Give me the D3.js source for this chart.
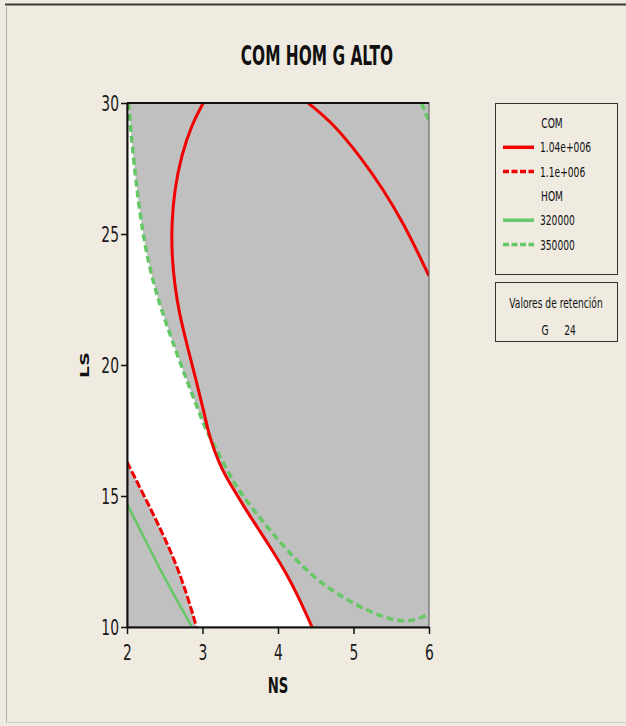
<!DOCTYPE html>
<html>
<head>
<meta charset="utf-8">
<script src="https://cdn.jsdelivr.net/npm/d3@7"></script>
<style>
  body { margin: 0; background: #efebe1; }
  svg { display: block; }
  text { font-family: "DejaVu Sans", sans-serif; fill: #111; }
</style>
</head>
<body>
<script>
// Overlaid contour plot: COM and HOM versus NS and LS, G held at 24

var nsTicks = [2, 3, 4, 5, 6];
var lsTicks = [10, 15, 20, 25, 30];

// COM = 1.04e+006 (solid red), two pieces
var comLow = [[3.01, 30], [2.86, 29.2], [2.72, 28.0], [2.63, 26.7], [2.59, 25.4], [2.595, 24.1],
    [2.635, 23.0], [2.69, 22.0], [2.80, 20.7], [2.915, 19.43], [3.02, 18.2], [3.08, 17.4],
    [3.16, 16.7], [3.26, 16.0], [3.40, 15.3], [3.57, 14.5], [3.75, 13.7], [3.93, 12.9],
    [4.10, 12.1], [4.28, 11.1], [4.45, 10]];
var comLowB = [[4.40, 30], [4.73, 29.22], [5.09, 27.95], [5.40, 26.68], [5.66, 25.41], [5.88, 24.13], [6, 23.4]];

// COM = 1.1e+006 (dashed red)
var comHigh = [[2, 16.3], [2.21, 15.1], [2.43, 13.83], [2.63, 12.56], [2.79, 11.29], [2.92, 10]];

// HOM = 320000 (solid green)
var homLow = [[2, 14.7], [2.22, 13.45], [2.44, 12.18], [2.66, 11.03], [2.86, 10]];

// HOM = 350000 (dashed green), two pieces
var homHigh = [[2.02, 30], [2.06, 28.6], [2.13, 26.7], [2.22, 24.8], [2.34, 23.2], [2.48, 21.9],
    [2.64, 20.6], [2.79, 19.43], [2.94, 18.3], [3.05, 17.5], [3.16, 16.9], [3.27, 16.3],
    [3.40, 15.6], [3.52, 15.05], [3.85, 13.83], [4.22, 12.6], [4.56, 11.67], [5.0, 10.88],
    [5.40, 10.35], [5.66, 10.2], [5.85, 10.28], [6, 10.5]];
var homHighB = [[5.90, 30], [6, 29.3]];

var legendItems = [
    {group: "COM"},
    {label: "1.04e+006", color: "#f00000", dash: null},
    {label: "1.1e+006", color: "#f00000", dash: "6,2.5"},
    {group: "HOM"},
    {label: "320000", color: "#66c766", dash: null},
    {label: "350000", color: "#66c766", dash: "6,2.5"}
];
var holdName = "G", holdValue = "24";

var W = 626, H = 726;
var K = 0.63; // horizontal squeeze of the text

var svg = d3.select("body").append("svg")
    .attr("width", W)
    .attr("height", H);

// outer frame
svg.append("rect").attr("x", 0).attr("y", 0).attr("width", W).attr("height", H).style("fill", "#efebe1");
svg.append("line").attr("x1", 5).attr("x2", W).attr("y1", 4.5).attr("y2", 4.5).style("stroke", "#3a3a3a").style("stroke-width", 2);
svg.append("line").attr("x1", 6.5).attr("x2", 6.5).attr("y1", 5).attr("y2", 722).style("stroke", "#b5b2aa").style("stroke-width", 1);
svg.append("line").attr("x1", 6).attr("x2", W).attr("y1", 722.5).attr("y2", 722.5).style("stroke", "#cfccc4").style("stroke-width", 1);

var x = d3.scaleLinear().domain([2, 6]).range([127, 429]);
var y = d3.scaleLinear().domain([10, 30]).range([627, 103]);

svg.append("clipPath").attr("id", "plotClip")
    .append("rect")
    .attr("x", x(2)).attr("y", y(30))
    .attr("width", x(6) - x(2)).attr("height", y(10) - y(30));

var plot = svg.append("g").attr("clip-path", "url(#plotClip)");

plot.append("rect")
    .attr("x", x(2)).attr("y", y(30))
    .attr("width", x(6) - x(2)).attr("height", y(10) - y(30))
    .style("fill", "#c0c0c0");

var line = d3.line()
    .x(function(d) { return x(d[0]); })
    .y(function(d) { return y(d[1]); })
    .curve(d3.curveBasis);

// find where two polylines cross
var crossing = function(a, b) {
    for (var i = 0; i < a.length - 1; i++) {
        for (var j = 0; j < b.length - 1; j++) {
            var p = a[i], r = [a[i + 1][0] - p[0], a[i + 1][1] - p[1]];
            var q = b[j], s = [b[j + 1][0] - q[0], b[j + 1][1] - q[1]];
            var den = r[0] * s[1] - r[1] * s[0];
            if (den === 0) continue;
            var t = ((q[0] - p[0]) * s[1] - (q[1] - p[1]) * s[0]) / den;
            var u = ((q[0] - p[0]) * r[1] - (q[1] - p[1]) * r[0]) / den;
            if (t >= 0 && t <= 1 && u >= 0 && u <= 1) {
                return {i: i, j: j, p: [p[0] + t * r[0], p[1] + t * r[1]]};
            }
        }
    }
    return null;
};

// feasible (white) region
var c = crossing(homHigh, comLow);
var segs = [
    [[x.domain()[0], y.domain()[1]], homHigh[0]],
    homHigh.slice(0, c.i + 1).concat([c.p]),
    [c.p].concat(comLow.slice(c.j + 1)),
    [comLow[comLow.length - 1], comHigh[comHigh.length - 1]],
    comHigh.slice().reverse(),
    [comHigh[0], [x.domain()[0], y.domain()[1]]]
];
var area = segs.map(function(s, k) {
    var d = line(s);
    return k ? d.replace(/^M/, "L") : d;
}).join("") + "Z";
plot.append("path").attr("d", area).style("fill", "#ffffff");

var drawCurve = function(data, color, width, dash) {
    plot.append("path")
        .datum(data)
        .attr("d", line)
        .style("fill", "none")
        .style("stroke", color)
        .style("stroke-width", width)
        .style("stroke-dasharray", dash);
};

drawCurve(homLow, "#66c766", 2.5, null);
drawCurve(homHigh, "#66c766", 3.5, "7,4");
drawCurve(homHighB, "#66c766", 3.5, "7,4");
drawCurve(comHigh, "#f00000", 3, "8,2.5");
drawCurve(comLow, "#f00000", 3, null);
drawCurve(comLowB, "#f00000", 3, null);

// plot frame
svg.append("rect")
    .attr("x", x(2)).attr("y", y(30))
    .attr("width", x(6) - x(2)).attr("height", y(10) - y(30))
    .style("fill", "none").style("stroke", "#555").style("stroke-width", 1);
svg.append("line").attr("x1", x(2)).attr("x2", x(6)).attr("y1", y(30)).attr("y2", y(30))
    .style("stroke", "#111").style("stroke-width", 2);

// axes
var xAxis = svg.append("g")
    .attr("transform", "translate(0," + y(10) + ")")
    .call(d3.axisBottom(x).tickValues(nsTicks).tickFormat(d3.format("d"))
        .tickSize(7).tickPadding(10).tickSizeOuter(0));
var yAxis = svg.append("g")
    .attr("transform", "translate(" + x(2) + ",0)")
    .call(d3.axisLeft(y).tickValues(lsTicks).tickFormat(d3.format("d"))
        .tickSize(6).tickPadding(2).tickSizeOuter(0));

[xAxis, yAxis].forEach(function(ax) {
    ax.select(".domain").style("stroke", "#111").style("stroke-width", 2);
    ax.selectAll(".tick line").style("stroke", "#111").style("stroke-width", 1.5);
    ax.selectAll(".tick text")
        .style("font-family", "DejaVu Sans, sans-serif")
        .style("font-size", "22px")
        .style("fill", "#1a1a1a")
        .each(function() {
            var t = d3.select(this);
            var tx = +t.attr("x") || 0, ty = +t.attr("y") || 0;
            t.attr("x", 0).attr("y", 0)
                .attr("transform", "translate(" + tx + "," + ty + ") scale(" + K + ",1)");
        });
});

// plain text helper, squeezed horizontally around its anchor
var label = function(txt, px, py, size, weight, anchor, extra) {
    return svg.append("text")
        .attr("transform", "translate(" + px + "," + py + ") scale(" + K + ",1)" + (extra || ""))
        .attr("text-anchor", anchor || "middle")
        .style("font-size", size + "px")
        .style("font-weight", weight || "normal")
        .text(txt);
};

svg.append("text")
    .attr("transform", "translate(317,65) scale(0.57,1)")
    .attr("text-anchor", "middle")
    .style("font-size", "27px")
    .style("font-weight", "bold")
    .text("COM HOM G ALTO");

label("NS", (x(2) + x(6)) / 2, 693, 21, "bold");
label("LS", 89, (y(10) + y(30)) / 2, 19, "bold", "middle", " rotate(-90)");

// legend
var lg = svg.append("g");
lg.append("rect").attr("x", 495.5).attr("y", 103.5).attr("width", 122).attr("height", 171)
    .style("fill", "#efebe1").style("stroke", "#333").style("stroke-width", 1);

legendItems.forEach(function(d, i) {
    var cy = 123 + i * 24.3;
    if (d.group) {
        label(d.group, 552, cy + 5, 14.5, "normal");
    } else {
        lg.append("line")
            .attr("x1", 503).attr("x2", 534).attr("y1", cy).attr("y2", cy)
            .style("stroke", d.color).style("stroke-width", 3.5)
            .style("stroke-dasharray", d.dash);
        label(d.label, 540, cy + 5, 14.5, "normal", "start");
    }
});

lg.append("rect").attr("x", 495.5).attr("y", 282.5).attr("width", 122).attr("height", 59)
    .style("fill", "#efebe1").style("stroke", "#333").style("stroke-width", 1);
label("Valores de retención", 556, 308, 14.5, "normal");
label(holdName, 545, 335, 14.5, "normal");
label(holdValue, 570, 335, 14.5, "normal");
</script>
</body>
</html>
